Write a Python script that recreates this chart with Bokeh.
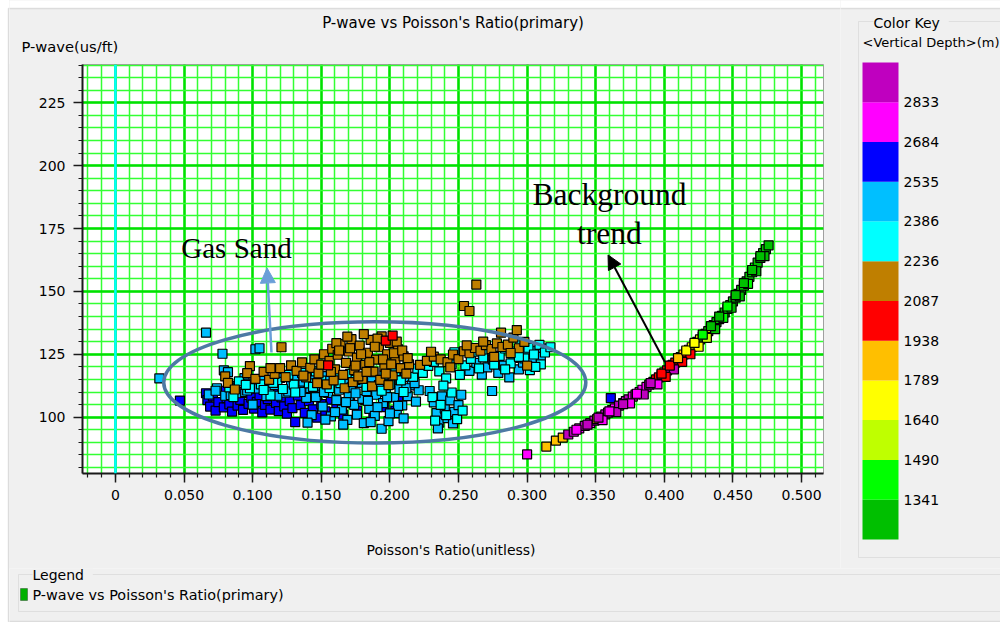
import numpy as np
from bokeh.plotting import figure
from bokeh.models import (ColumnDataSource, Range1d, SingleIntervalTicker, CustomJSTickFormatter,
                          LinearColorMapper, Span, Label, Arrow, NormalHead, BoxAnnotation)
from bokeh.layouts import column, row
from bokeh.embed import file_html
from bokeh.resources import INLINE
from bokeh.core.properties import value

FONT = "DejaVu Sans"
BG = "#f0f0f0"
EDGE = "#a0a0a0"
GROUP = "#b8b8b8"

# ---------------- colour key (vertical depth, m) ----------------
depth_ticks = [1341, 1490, 1640, 1789, 1938, 2087, 2236, 2386, 2535, 2684, 2833]
depth_low, depth_high = 1192, 2982
palette = ["#00BF00", "#00FF00", "#BFFF00", "#FFFF00", "#FFBF00", "#FF0000",
           "#BF7F00", "#00FFFF", "#00BFFF", "#0000FF", "#FF00FF", "#BF00BF"]

# ---------------- data: Poisson's ratio (pr) and P-wave (vp, us/ft) ----------------
blue_depth = 2600
blue_pr = [0.047, 0.066, 0.067, 0.069, 0.071, 0.073, 0.075, 0.077, 0.079, 0.081, 0.083, 0.085,
           0.087, 0.089, 0.091, 0.093, 0.095, 0.097, 0.099, 0.101, 0.103, 0.105, 0.107, 0.109,
           0.111, 0.113, 0.115, 0.117, 0.119, 0.121, 0.123, 0.125, 0.127, 0.129, 0.131, 0.133,
           0.135, 0.138, 0.141, 0.144, 0.147, 0.150, 0.153, 0.157, 0.161, 0.166, 0.171, 0.176,
           0.182, 0.188, 0.196, 0.204, 0.206, 0.361]
blue_vp = [106.6, 109.5, 106.8, 104.2, 108.3, 102.6, 106.0, 110.5, 103.9, 107.6, 105.1, 102.2,
           108.9, 104.6, 106.9, 102.9, 109.6, 105.3, 107.8, 103.4, 106.1, 108.8, 101.9, 104.9,
           107.2, 103.0, 109.9, 105.7, 102.4, 107.9, 104.3, 101.4, 106.5, 103.6, 98.0, 108.6,
           104.8, 101.7, 106.4, 103.1, 99.8, 105.2, 102.3, 107.0, 103.9, 101.0, 105.6, 102.6,
           106.8, 101.2, 104.0, 102.6, 106.4, 107.6]

sky_depth = 2460
sky_pr = [0.032, 0.066, 0.078, 0.102, 0.105, 0.094, 0.079, 0.082,
          0.074, 0.080, 0.086, 0.092, 0.097, 0.100, 0.104, 0.108, 0.112, 0.116, 0.120, 0.124,
          0.128, 0.132, 0.134, 0.137, 0.139, 0.142, 0.143, 0.145, 0.147, 0.149, 0.151, 0.153,
          0.155, 0.157, 0.159, 0.161, 0.163, 0.165, 0.167, 0.169, 0.170, 0.172, 0.174, 0.176,
          0.178, 0.180, 0.181, 0.183, 0.185, 0.187, 0.189, 0.190, 0.192, 0.194, 0.195, 0.197,
          0.199, 0.201, 0.203, 0.205, 0.207, 0.209, 0.211, 0.213, 0.216, 0.219, 0.221,
          0.229, 0.232, 0.234, 0.236, 0.238, 0.240, 0.242, 0.244, 0.247, 0.250, 0.252, 0.235, 0.246,
          0.2745, 0.258, 0.263, 0.267, 0.271, 0.275, 0.279, 0.283, 0.287, 0.290, 0.294, 0.297,
          0.300, 0.304, 0.307, 0.310, 0.313,
          0.068, 0.073, 0.084, 0.088, 0.096, 0.110, 0.118, 0.126, 0.135, 0.146, 0.152, 0.160,
          0.168, 0.175, 0.184, 0.191, 0.198, 0.206, 0.212, 0.218, 0.140, 0.153, 0.166, 0.186,
          0.200, 0.210]
sky_vp = [115.4, 133.6, 125.2, 127.0, 127.4, 115.5, 118.6, 117.9,
          111.5, 108.5, 112.4, 110.0, 113.3, 105.0, 111.4, 114.6, 110.3, 112.7, 115.6, 109.7,
          113.2, 116.4, 110.8, 114.1, 107.7, 111.6, 100.8, 115.2, 108.6, 112.5, 104.2, 116.3,
          109.6, 100.3, 113.0, 106.8, 110.9, 103.0, 114.7, 98.9, 108.2, 111.8, 104.9, 101.0,
          113.6, 107.3, 97.6, 110.4, 103.3, 115.1, 100.5, 108.9, 112.7, 95.4, 105.6, 110.0,
          98.4, 114.3, 107.9, 101.6, 111.2, 104.7, 115.9, 108.4, 112.6, 106.2, 110.7,
          110.4, 105.9, 101.6, 97.8, 108.3, 103.4, 99.6, 106.7, 102.1, 104.8, 108.9, 95.5, 97.5,
          110.4, 118.4, 121.6, 116.9, 119.8, 122.9, 117.6, 120.5, 115.8, 123.6, 119.0, 121.7,
          125.6, 122.3, 126.4, 124.0, 127.3,
          109.0, 110.5, 108.8, 109.5, 110.6, 108.4, 108.5, 110.2, 110.0, 108.0, 110.0, 102.0,
          106.0, 109.5, 106.5, 104.0, 108.0, 104.5, 111.5, 113.5, 97.8, 99.0, 97.0, 98.0,
          101.5, 99.5]

cyan_depth = 2310
cyan_pr = [0.083, 0.090, 0.098, 0.106, 0.113, 0.118, 0.122, 0.126, 0.130, 0.136, 0.141, 0.146,
           0.156, 0.160, 0.171, 0.179, 0.188, 0.196, 0.204, 0.208, 0.213, 0.217, 0.220,
           0.224, 0.228, 0.232, 0.236, 0.241, 0.245, 0.247, 0.251, 0.255, 0.259, 0.262, 0.265,
           0.268, 0.272, 0.276, 0.280, 0.284, 0.288, 0.291, 0.295, 0.298, 0.301, 0.305, 0.309,
           0.313, 0.317, 0.310, 0.302,
           0.231, 0.237, 0.241, 0.245, 0.249, 0.233, 0.253,
           0.086, 0.095, 0.108, 0.115, 0.131, 0.144, 0.150, 0.164, 0.175, 0.183, 0.194, 0.200,
           0.210, 0.239, 0.284, 0.294, 0.306]
cyan_vp = [111.8, 114.2, 111.5, 113.0, 108.6, 114.0, 111.2, 116.8, 112.9, 117.6, 113.4, 118.2,
           111.6, 116.4, 117.2, 115.8, 117.9, 116.6, 118.3, 114.6, 121.2, 116.0, 119.3,
           117.6, 120.4, 122.0, 118.2, 115.4, 121.0, 125.8, 116.8, 120.6, 123.2, 126.0, 119.4,
           123.8, 126.9, 120.9, 124.4, 127.3, 121.4, 126.1, 129.0, 123.4, 127.6, 124.9, 128.7,
           125.7, 127.8, 121.0, 118.7,
           108.0, 104.9, 100.8, 109.8, 99.2, 98.6, 102.6,
           108.0, 112.8, 110.8, 113.6, 109.8, 112.0, 114.5, 113.5, 114.8, 112.0, 110.5, 113.0,
           110.0, 112.5, 119.0, 124.0, 120.0]

brown_depth = 2160
brown_pr = [0.121, 0.098, 0.254, 0.258, 0.263,
            0.080, 0.082, 0.087, 0.096, 0.102, 0.108, 0.112, 0.116, 0.120, 0.124, 0.128, 0.132,
            0.136, 0.139, 0.142, 0.145, 0.148, 0.150, 0.152, 0.154,
            0.156, 0.158, 0.160, 0.162, 0.164, 0.166, 0.168, 0.170, 0.172, 0.174, 0.176, 0.178,
            0.180, 0.182, 0.184, 0.186, 0.188, 0.190, 0.192, 0.194, 0.196, 0.198, 0.200, 0.202,
            0.204, 0.206, 0.208, 0.210, 0.212, 0.214, 0.159, 0.167, 0.173, 0.181, 0.187, 0.193,
            0.199, 0.161, 0.171, 0.177, 0.185, 0.191, 0.197, 0.203,
            0.222, 0.227, 0.232, 0.237, 0.242, 0.246, 0.250, 0.254, 0.258, 0.262, 0.266, 0.270,
            0.274, 0.278, 0.282, 0.286, 0.290, 0.294, 0.298, 0.281, 0.2925, 0.300, 0.244, 0.276,
            0.157, 0.163, 0.169, 0.175, 0.179, 0.183, 0.189, 0.195, 0.201, 0.205, 0.209, 0.213,
            0.147, 0.137, 0.113, 0.230, 0.256, 0.268, 0.288]
brown_vp = [127.8, 120.3, 144.2, 142.2, 152.7,
            116.2, 113.6, 111.0, 117.5, 115.2, 118.0, 114.8, 117.2, 119.5, 115.9, 120.6, 118.4,
            121.8, 115.8, 119.6, 123.0, 117.4, 120.9, 125.0, 113.0,
            122.4, 127.2, 119.0, 124.8, 129.0, 116.8, 121.6, 126.1, 131.0, 118.7, 123.7, 128.4,
            115.2, 120.8, 125.6, 130.7, 118.1, 122.9, 127.8, 132.1, 120.1, 125.0, 129.5, 116.6,
            122.0, 127.0, 119.5, 124.2, 117.3, 121.0, 114.6, 111.5, 113.9, 133.0, 112.2, 114.8,
            112.7, 129.4, 127.4, 116.2, 121.9, 131.2, 117.3, 125.4,
            120.8, 122.4, 124.1, 123.0, 121.9, 124.9, 123.1, 126.2, 125.4, 127.5, 126.4, 128.6,
            127.1, 129.3, 127.9, 128.8, 131.6, 127.4, 129.9, 133.6, 134.6, 120.5, 119.8, 124.0,
            118.0, 126.5, 132.0, 120.5, 125.0, 118.0, 128.0, 123.0, 121.0, 130.0, 126.5, 123.5,
            113.5, 116.5, 119.5, 126.0, 128.5, 130.0, 125.5]

red_depth = 2010
red_pr = [0.155, 0.197, 0.202]
red_vp = [120.6, 130.4, 132.4]

# background trend (per-point depth)
trend_pr = [0.300, 0.314, 0.321, 0.326, 0.330, 0.334, 0.338, 0.342, 0.346, 0.349, 0.351, 0.354,
            0.357, 0.359, 0.362, 0.364, 0.367, 0.370, 0.372, 0.374, 0.377, 0.379, 0.382, 0.384,
            0.387, 0.389, 0.392, 0.394, 0.396, 0.398, 0.400, 0.402, 0.404, 0.406, 0.408, 0.410,
            0.412, 0.414, 0.416, 0.418, 0.420, 0.422, 0.424, 0.426, 0.428, 0.430, 0.432, 0.434,
            0.436, 0.438, 0.440, 0.442, 0.444, 0.446, 0.448, 0.450, 0.452, 0.454, 0.456, 0.458,
            0.460, 0.462, 0.464, 0.466, 0.468, 0.470, 0.472, 0.474, 0.476,
            0.449, 0.455, 0.461, 0.467, 0.473, 0.443, 0.437, 0.431, 0.425, 0.419, 0.413, 0.407,
            0.401, 0.395, 0.385, 0.375, 0.365, 0.355,
            0.336, 0.344, 0.352, 0.360, 0.370, 0.380, 0.390, 0.398, 0.404, 0.410, 0.416, 0.422,
            0.428, 0.434, 0.440, 0.446, 0.452, 0.458, 0.464, 0.470]
trend_vp = [85.2, 88.3, 90.7, 91.9, 93.1, 94.2, 95.5, 96.5, 97.6, 98.6, 99.2, 100.2,
            101.1, 101.8, 102.8, 103.5, 104.6, 105.6, 106.4, 107.1, 108.2, 109.0, 110.0, 110.9,
            112.0, 112.9, 114.0, 115.0, 115.8, 116.8, 117.8, 118.6, 119.6, 120.8, 121.7, 122.9,
            123.9, 124.9, 125.8, 126.8, 127.8, 128.8, 129.9, 130.9, 132.0, 133.1, 134.2, 135.4,
            136.6, 137.8, 139.0, 140.3, 141.6, 143.0, 144.5, 146.0, 147.5, 149.0, 150.6, 152.3,
            154.0, 155.8, 157.6, 159.5, 161.4, 163.3, 165.2, 166.8, 168.3,
            143.5, 148.0, 153.0, 158.0, 164.0, 139.5, 135.0, 131.5, 128.0, 125.0, 122.0, 119.0,
            116.0, 113.0, 109.0, 105.5, 102.0, 98.8,
            95.0, 97.0, 99.8, 102.3, 105.2, 109.3, 113.5, 117.3, 120.5, 123.5, 126.5, 129.5,
            132.8, 136.2, 140.0, 144.0, 148.5, 153.3, 158.5, 164.0]
trend_depth = [2760, 1860, 1860, 1860, 2900, 2900, 2760, 2900, 2760, 2900, 1860, 2760,
               2900, 2760, 2900, 2760, 2900, 2760, 2900, 2900, 2760, 2900, 2900, 2760,
               2760, 2900, 2760, 2010, 2010, 2760, 1860, 2010, 2900, 2010, 2010, 2010,
               1860, 1860, 2010, 1860, 1710, 1710, 1560, 1710, 1270, 1410, 1270, 1710,
               1710, 1270, 1270, 1410, 1270, 1270, 1410, 1270, 1270, 1270, 1270, 1410,
               1270, 1270, 1270, 1410, 1270, 1270, 1270, 1270, 1270,
               1270, 1270, 1410, 1270, 1270, 1410, 1270, 1560, 1710, 2010, 2010, 2900,
               2010, 2760, 2900, 2760, 2900, 2760,
               2760, 2900, 2900, 2760, 2900, 2760, 2900, 2010, 2010, 1860, 1710, 1710,
               1410, 1270, 1270, 1410, 1270, 1270, 1270, 1270]

pr = blue_pr + sky_pr + cyan_pr + brown_pr + red_pr + trend_pr
vp = blue_vp + sky_vp + cyan_vp + brown_vp + red_vp + trend_vp
depth = ([blue_depth] * len(blue_pr) + [sky_depth] * len(sky_pr) + [cyan_depth] * len(cyan_pr)
         + [brown_depth] * len(brown_pr) + [red_depth] * len(red_pr) + trend_depth)
src = ColumnDataSource(dict(pr=pr, vp=vp, depth=depth))
mapper = LinearColorMapper(palette=palette, low=depth_low, high=depth_high)


def screen_box(**kw):
    return BoxAnnotation(left_units="screen", right_units="screen", bottom_units="screen",
                         top_units="screen", **kw)


def screen_label(x, y, text, size="14px", **kw):
    return Label(x=x, y=y, x_units="screen", y_units="screen", text=text, text_font=FONT,
                 text_font_size=size, text_color="black", text_baseline="middle", **kw)


def blank(width, height, bg=BG):
    f = figure(width=width, height=height, x_range=Range1d(0, width), y_range=Range1d(0, height),
               output_backend="svg", toolbar_location=None, min_border=0,
               x_axis_type=None, y_axis_type=None,
               background_fill_color=bg, border_fill_color=bg, outline_line_color=None)
    f.grid.visible = False
    return f


# ---------------- left window edge ----------------
ls = blank(9, 622, bg="white")
ls.add_layout(screen_box(left=8, right=40, bottom=1, top=614, fill_color=BG, fill_alpha=1,
                         line_color=EDGE, line_width=1.5, level="underlay"))

# ---------------- top strip: title + y label ----------------
ts = blank(831, 64, bg="white")
ts.add_layout(screen_box(left=-20, right=900, bottom=-20, top=56, fill_color=BG, fill_alpha=1,
                         line_color=EDGE, line_width=1.5, level="underlay"))
ts.add_layout(screen_label(443.5, 42, "P-wave vs Poisson's Ratio(primary)", size="15px",
                           text_align="center"))
ts.add_layout(screen_label(12, 18, "P-wave(us/ft)", size="14.7px"))

# ---------------- main plot ----------------
p = figure(width=831, height=448, x_range=Range1d(-0.024, 0.516), y_range=Range1d(77.6, 240.2),
           output_backend="svg", toolbar_location=None,
           min_border_left=73, min_border_right=17, min_border_top=0, min_border_bottom=39,
           background_fill_color="white", border_fill_color=BG, outline_line_color=EDGE)
p.title.visible = False

xt = SingleIntervalTicker(interval=0.05, num_minor_ticks=5)
yt = SingleIntervalTicker(interval=25, num_minor_ticks=5)
p.xaxis.ticker = xt
p.yaxis.ticker = yt
p.xgrid.ticker = xt
p.ygrid.ticker = yt
p.xaxis.formatter = CustomJSTickFormatter(code="return Math.abs(tick) < 1e-9 ? '0' : tick.toFixed(3);")

for ax in (p.xaxis[0], p.yaxis[0]):
    ax.axis_line_color = "#1a1a1a"
    ax.axis_line_width = 2
    ax.major_tick_line_color = "#1a1a1a"
    ax.major_tick_line_width = 1.5
    ax.minor_tick_line_color = "#1a1a1a"
    ax.minor_tick_line_width = 1.2
    ax.major_tick_out = 9
    ax.major_tick_in = 0
    ax.minor_tick_out = 4
    ax.minor_tick_in = 0
    ax.major_label_text_font = FONT
    ax.major_label_text_font_size = "14px"
    ax.major_label_text_color = "black"
p.xaxis.major_label_standoff = 7
p.yaxis.major_label_standoff = 8

for g in (p.xgrid[0], p.ygrid[0]):
    g.grid_line_color = "#00E100"
    g.grid_line_width = 2.5
    g.minor_grid_line_color = "#33FF33"
    g.minor_grid_line_width = 1.5

p.add_layout(Span(location=0, dimension="height", line_color="#00FFFF", line_width=2.5))

p.scatter("pr", "vp", source=src, marker="square", size=9,
          fill_color={"field": "depth", "transform": mapper},
          line_color="black", line_width=1.2)

# annotations drawn on the chart
p.ellipse(x=[0.189], y=[113.8], width=[0.3076], height=[48.2], fill_color=None,
          line_color="#4D79A4", line_width=3.5)
p.text(x=[0.048], y=[167.4], text=["Gas Sand"], text_font=value("Liberation Serif"),
       text_font_size="29px", text_baseline="alphabetic", text_color="black")
p.text(x=[0.360, 0.360], y=[188.6, 173.0], text=["Background", "trend"],
       text_font=value("Liberation Serif"), text_font_size="31.5px",
       text_baseline="alphabetic", text_align="center", text_color="black")
p.add_layout(Arrow(end=NormalHead(size=15, fill_color="#6A9FD8", line_color="#6A9FD8"),
                   x_start=0.1137, y_start=125.7, x_end=0.1105, y_end=159.3,
                   line_color="#6A9FD8", line_width=2.5))
p.add_layout(Arrow(end=NormalHead(size=14, fill_color="black", line_color="black"),
                   x_start=0.4005, y_start=121.8, x_end=0.3590, y_end=164.5,
                   line_color="black", line_width=2))

# ---------------- bottom strip: x label ----------------
bs = blank(831, 56)
bs.add_layout(screen_label(441.5, 19, "Poisson's Ratio(unitless)", text_align="center"))

# ---------------- colour key ----------------
k = figure(width=160, height=568, x_range=Range1d(0, 160), y_range=Range1d(1083.2, 3214.7),
           output_backend="svg", toolbar_location=None, min_border=0,
           x_axis_type=None, y_axis_type=None,
           background_fill_color="white", border_fill_color="white", outline_line_color=None)
k.grid.visible = False
k.add_layout(screen_box(left=-20, right=300, bottom=-20, top=560, fill_color=BG, fill_alpha=1,
                        line_color=EDGE, line_width=1.5, level="underlay"))
edges = [depth_low] + depth_ticks + [depth_high]
k.quad(left=22, right=58, bottom=edges[:-1], top=edges[1:], fill_color=palette, line_color=None)
k.text(x=[63] * len(depth_ticks), y=depth_ticks, text=[str(t) for t in depth_ticks],
       text_baseline="middle", text_font=value(FONT), text_font_size="14px", text_color="black")
k.add_layout(screen_box(left=18, right=400, bottom=11, top=547, fill_alpha=0,
                        line_color=GROUP, line_width=1))
k.add_layout(screen_label(33, 546, " Color Key ", background_fill_color=BG))
k.add_layout(screen_label(22, 526, "<Vertical Depth>(m)", size="13px"))

# ---------------- legend strip ----------------
lg = blank(991, 54, bg="white")
lg.add_layout(screen_box(left=-20, right=1200, bottom=1, top=80, fill_color=BG, fill_alpha=1,
                         line_color=EDGE, line_width=1.5, level="underlay"))
lg.add_layout(screen_box(left=9, right=2000, bottom=11, top=48, fill_alpha=0,
                         line_color=GROUP, line_width=1))
lg.add_layout(screen_label(23, 48, " Legend ", background_fill_color=BG))
lg.add_layout(screen_box(left=11, right=18, bottom=22, top=34, fill_color="#00B000",
                         fill_alpha=1, line_color="black", line_width=1))
lg.add_layout(screen_label(23, 28, "P-wave vs Poisson's Ratio(primary)", size="14.4px"))

bgstyle = {"background-color": BG}
main_col = column(column(ts), p, column(bs), styles=bgstyle)
upper = row(main_col, column(k, styles=bgstyle), styles=bgstyle)
right_part = column(upper, column(lg, styles=bgstyle), styles=bgstyle)
layout = row(column(ls), right_part)
open("out.html", "w").write(file_html(layout, INLINE))
